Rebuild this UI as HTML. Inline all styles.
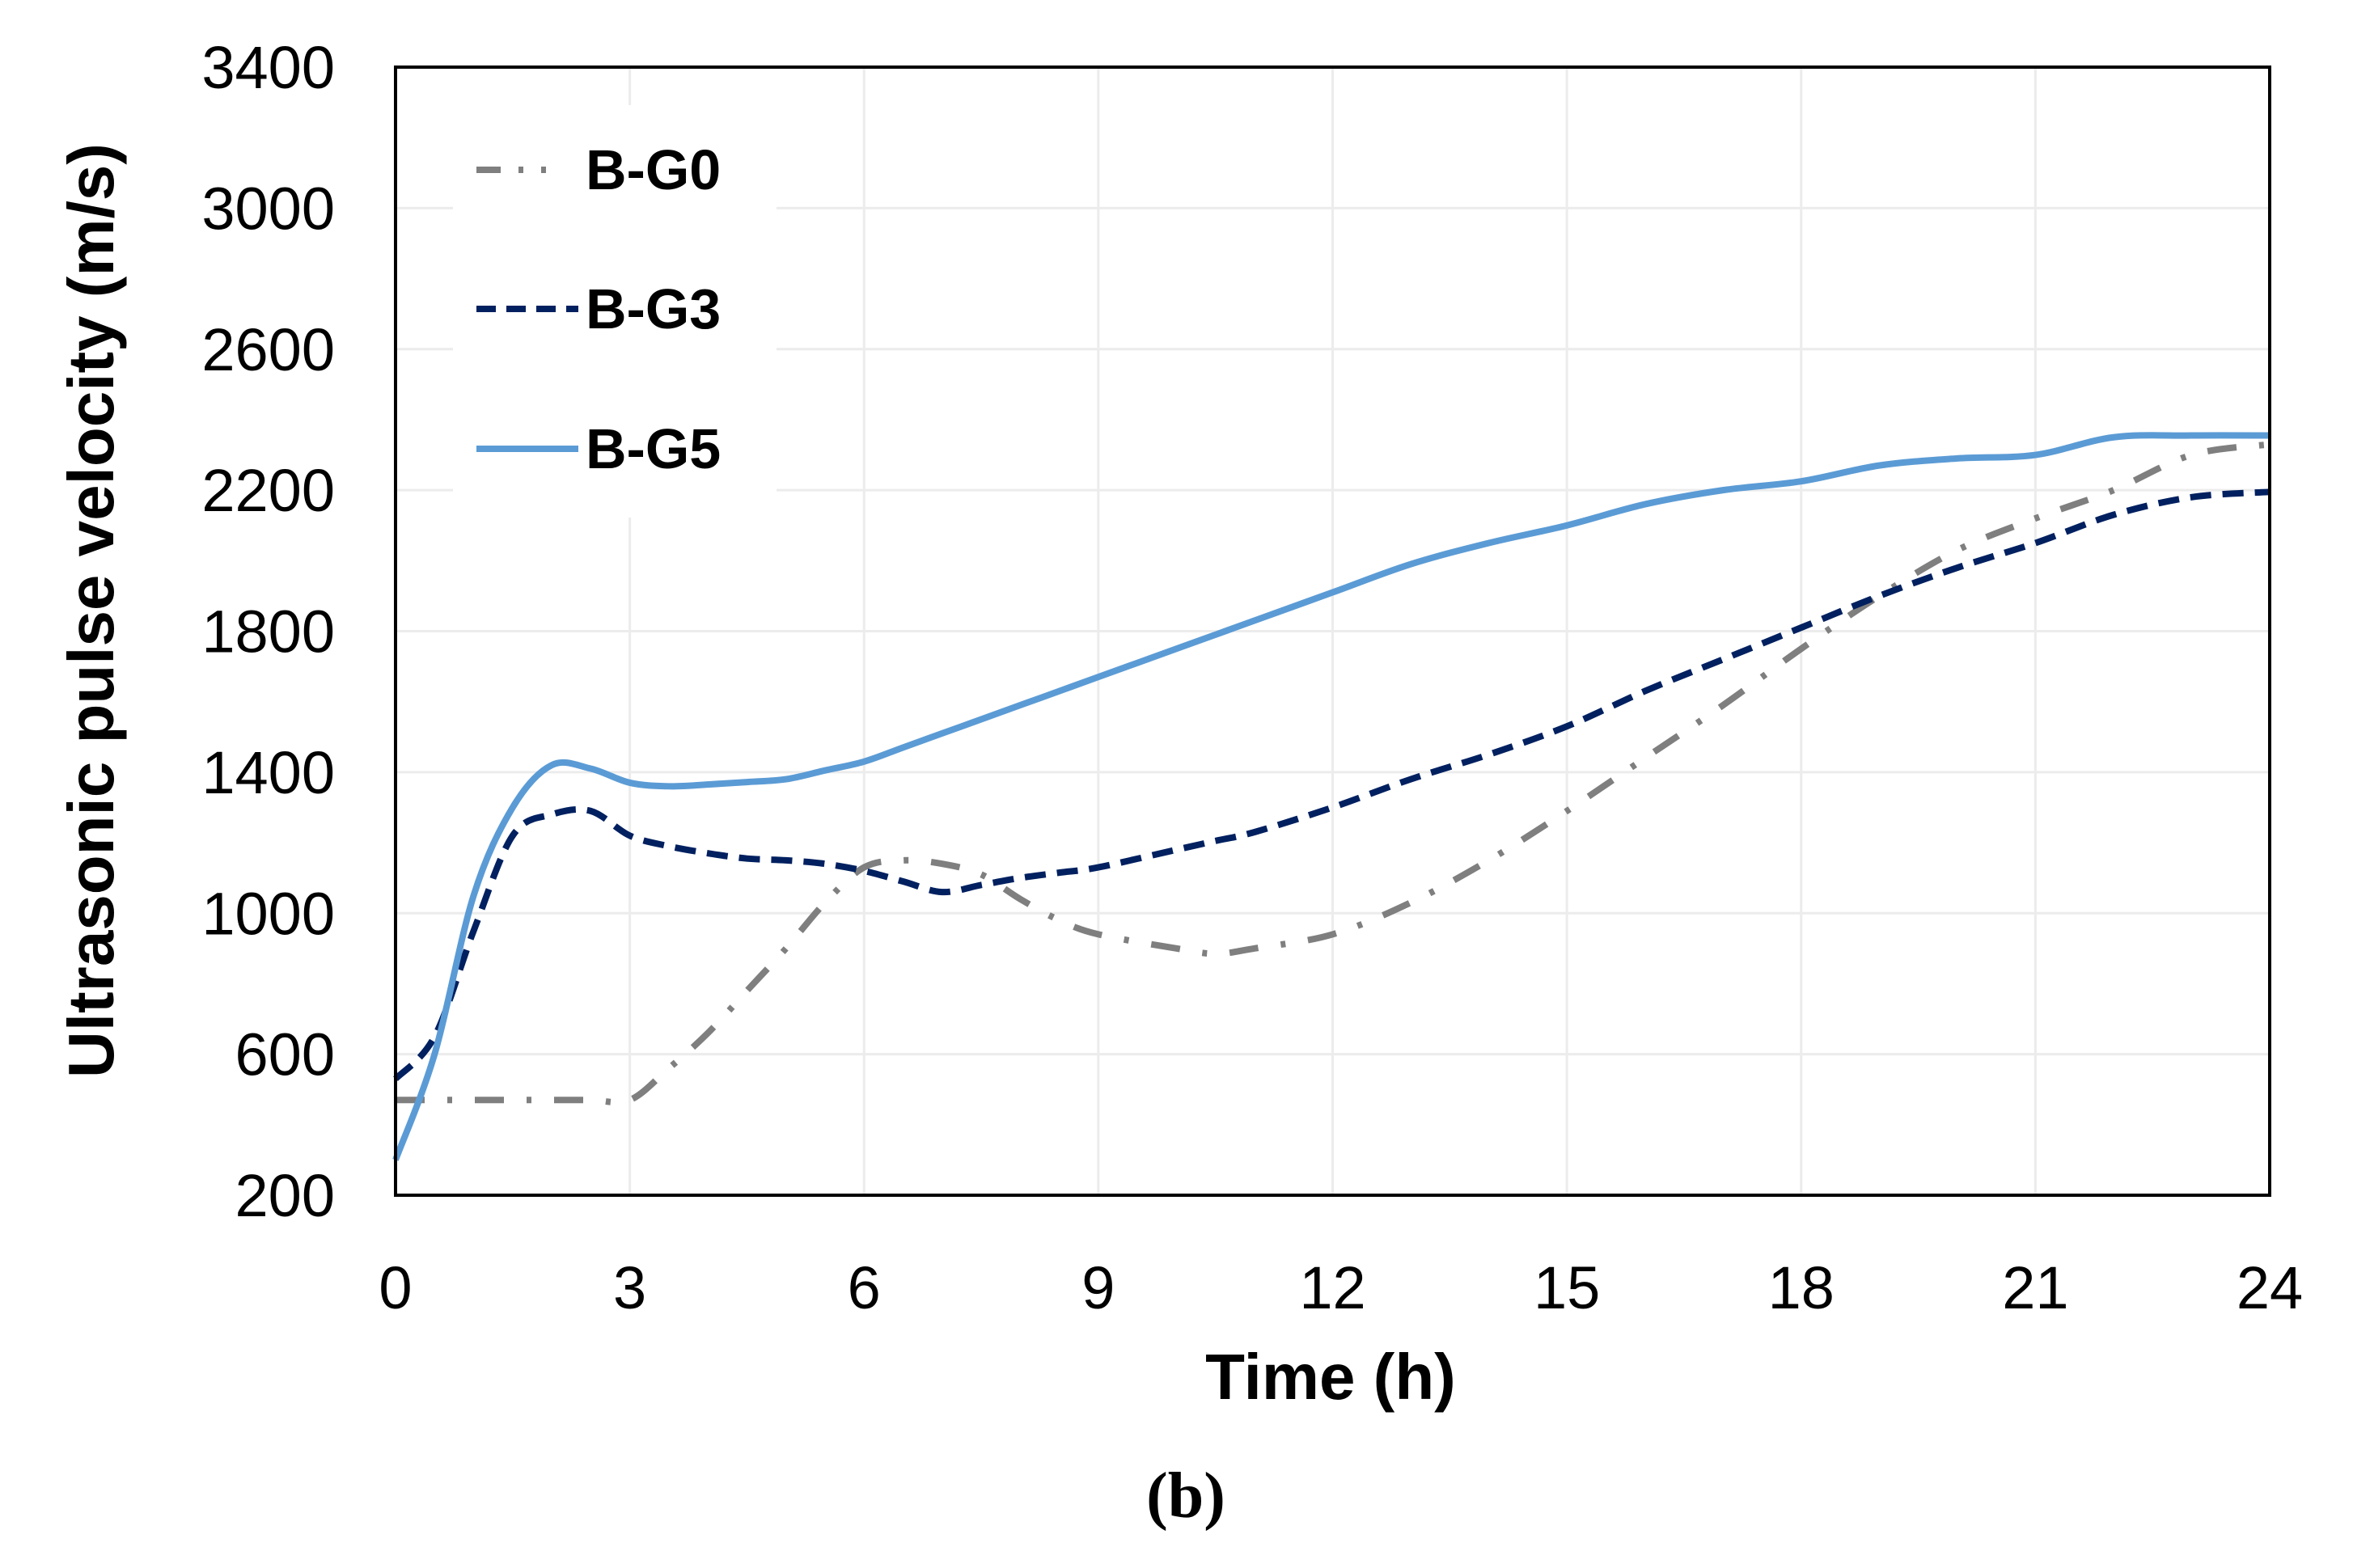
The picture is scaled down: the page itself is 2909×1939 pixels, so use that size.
<!DOCTYPE html>
<html><head><meta charset="utf-8"><style>
html,body{margin:0;padding:0;background:#fff;}
svg{display:block;}
</style></head><body>
<svg id="chart" width="2909" height="1939" viewBox="0 0 2909 1939" xmlns="http://www.w3.org/2000/svg">
<g id="grid"></g>
<g id="series"></g>
<rect x="560" y="130" width="400" height="510" fill="#fff"/>
<g font-family="'Liberation Sans', sans-serif" font-weight="bold" font-size="70">
  <g>
    <path d="M589 210 H715" stroke="#7f7f7f" stroke-width="8" stroke-dasharray="30 22 6 22 6 40" fill="none"/>
    <text x="724" y="234">B-G0</text>
  </g>
  <g>
    <path d="M589 382 H715" stroke="#002060" stroke-width="8" stroke-dasharray="24 13" fill="none"/>
    <text x="724" y="406">B-G3</text>
  </g>
  <g>
    <path d="M589 555 H715" stroke="#5b9bd5" stroke-width="8" fill="none"/>
    <text x="724" y="579">B-G5</text>
  </g>
</g>
<rect x="489" y="83" width="2317" height="1395" fill="none" stroke="#000" stroke-width="4"/>
<g id="yticks" font-family="'Liberation Sans', sans-serif" font-size="74" text-anchor="end"></g>
<g id="xticks" font-family="'Liberation Sans', sans-serif" font-size="74" text-anchor="middle"></g>
<text x="1645" y="1730" text-anchor="middle" font-family="'Liberation Sans', sans-serif" font-weight="bold" font-size="80">Time (h)</text>
<text transform="translate(140,755) rotate(-90)" text-anchor="middle" font-family="'Liberation Sans', sans-serif" font-weight="bold" font-size="80">Ultrasonic pulse velocity (m/s)</text>
<text x="1466" y="1876" text-anchor="middle" font-family="'Liberation Serif', serif" font-weight="bold" font-size="80">(b)</text>
</svg>
<script>
const xTicks = [0,3,6,9,12,15,18,21,24];
const yTicks = [200,600,1000,1400,1800,2200,2600,3000,3400];
const times = [0,0.5,1,1.5,2,2.5,3,3.5,4,4.5,5,5.5,6,6.5,7,7.5,8,8.5,9,10,10.5,11,12,13,14,15,16,17,18,19,20,21,22,23,24];
const bg0 = [470,470,470,470,470,470,470,560,660,780,900,1030,1130,1150,1140,1110,1040,980,940,900,885,900,940,1030,1150,1290,1440,1590,1750,1900,2030,2120,2200,2300,2330];
const bg3 = [530,650,950,1220,1280,1290,1220,1190,1170,1155,1150,1140,1120,1090,1060,1080,1100,1115,1130,1180,1205,1230,1300,1380,1450,1530,1630,1720,1810,1900,1980,2050,2130,2180,2195];
const bg5 = [300,600,1050,1300,1420,1410,1370,1360,1365,1372,1380,1405,1430,1470,1510,1550,1590,1630,1670,1750,1790,1830,1910,1990,2050,2100,2160,2200,2225,2270,2290,2300,2350,2355,2355];

const L=489,R=2806,T=83,B=1478;
const xs = t => L + (t-0)/(24-0)*(R-L);
const ys = v => B - (v-200)/(3400-200)*(B-T);
const NS='http://www.w3.org/2000/svg';
const grid=document.getElementById('grid');
xTicks.forEach(t=>{
  const l=document.createElementNS(NS,'line');
  
  
  l.setAttribute('x1',xs(t));l.setAttribute('x2',xs(t));l.setAttribute('y1',T);l.setAttribute('y2',B);
  l.setAttribute('stroke','#ececec');l.setAttribute('stroke-width','3');
  grid.appendChild(l);
  const tx=document.createElementNS(NS,'text');
  
  
  tx.setAttribute('x',xs(t));tx.setAttribute('y',1618);tx.textContent=t;
  document.getElementById('xticks').appendChild(tx);
});
yTicks.forEach(v=>{
  const l=document.createElementNS(NS,'line');
  
  
  l.setAttribute('x1',L);l.setAttribute('x2',R);l.setAttribute('y1',ys(v));l.setAttribute('y2',ys(v));
  l.setAttribute('stroke','#ececec');l.setAttribute('stroke-width','3');
  grid.appendChild(l);
  const tx=document.createElementNS(NS,'text');
  
  
  tx.setAttribute('x',414);tx.setAttribute('y',ys(v)+26);tx.textContent=v;
  document.getElementById('yticks').appendChild(tx);
});
function pathD(vals){
  const p=times.map((t,i)=>[xs(t),ys(vals[i])]);
  let d='M'+p[0][0]+' '+p[0][1];
  for(let i=0;i<p.length-1;i++){
    const p0=p[i-1]||p[i],p1=p[i],p2=p[i+1],p3=p[i+2]||p[i+1];
    const c1x=p1[0]+(p2[0]-p0[0])/6,c1y=p1[1]+(p2[1]-p0[1])/6;
    const c2x=p2[0]-(p3[0]-p1[0])/6,c2y=p2[1]-(p3[1]-p1[1])/6;
    d+=` C${c1x} ${c1y} ${c2x} ${c2y} ${p2[0]} ${p2[1]}`;
  }
  return d;
}
const sg=document.getElementById('series');
function addLine(vals,name,color,dash){
  const p=document.createElementNS(NS,'path');
  
  
  p.setAttribute('d',pathD(vals));
  p.setAttribute('fill','none');p.setAttribute('stroke',color);p.setAttribute('stroke-width','8');
  if(dash)p.setAttribute('stroke-dasharray',dash);
  sg.appendChild(p);
}
addLine(bg0,'line-b-g0','#7f7f7f','36 28 6 28');
addLine(bg3,'line-b-g3','#002060','26 14');
addLine(bg5,'line-b-g5','#5b9bd5',null);
</script>
</body></html>
